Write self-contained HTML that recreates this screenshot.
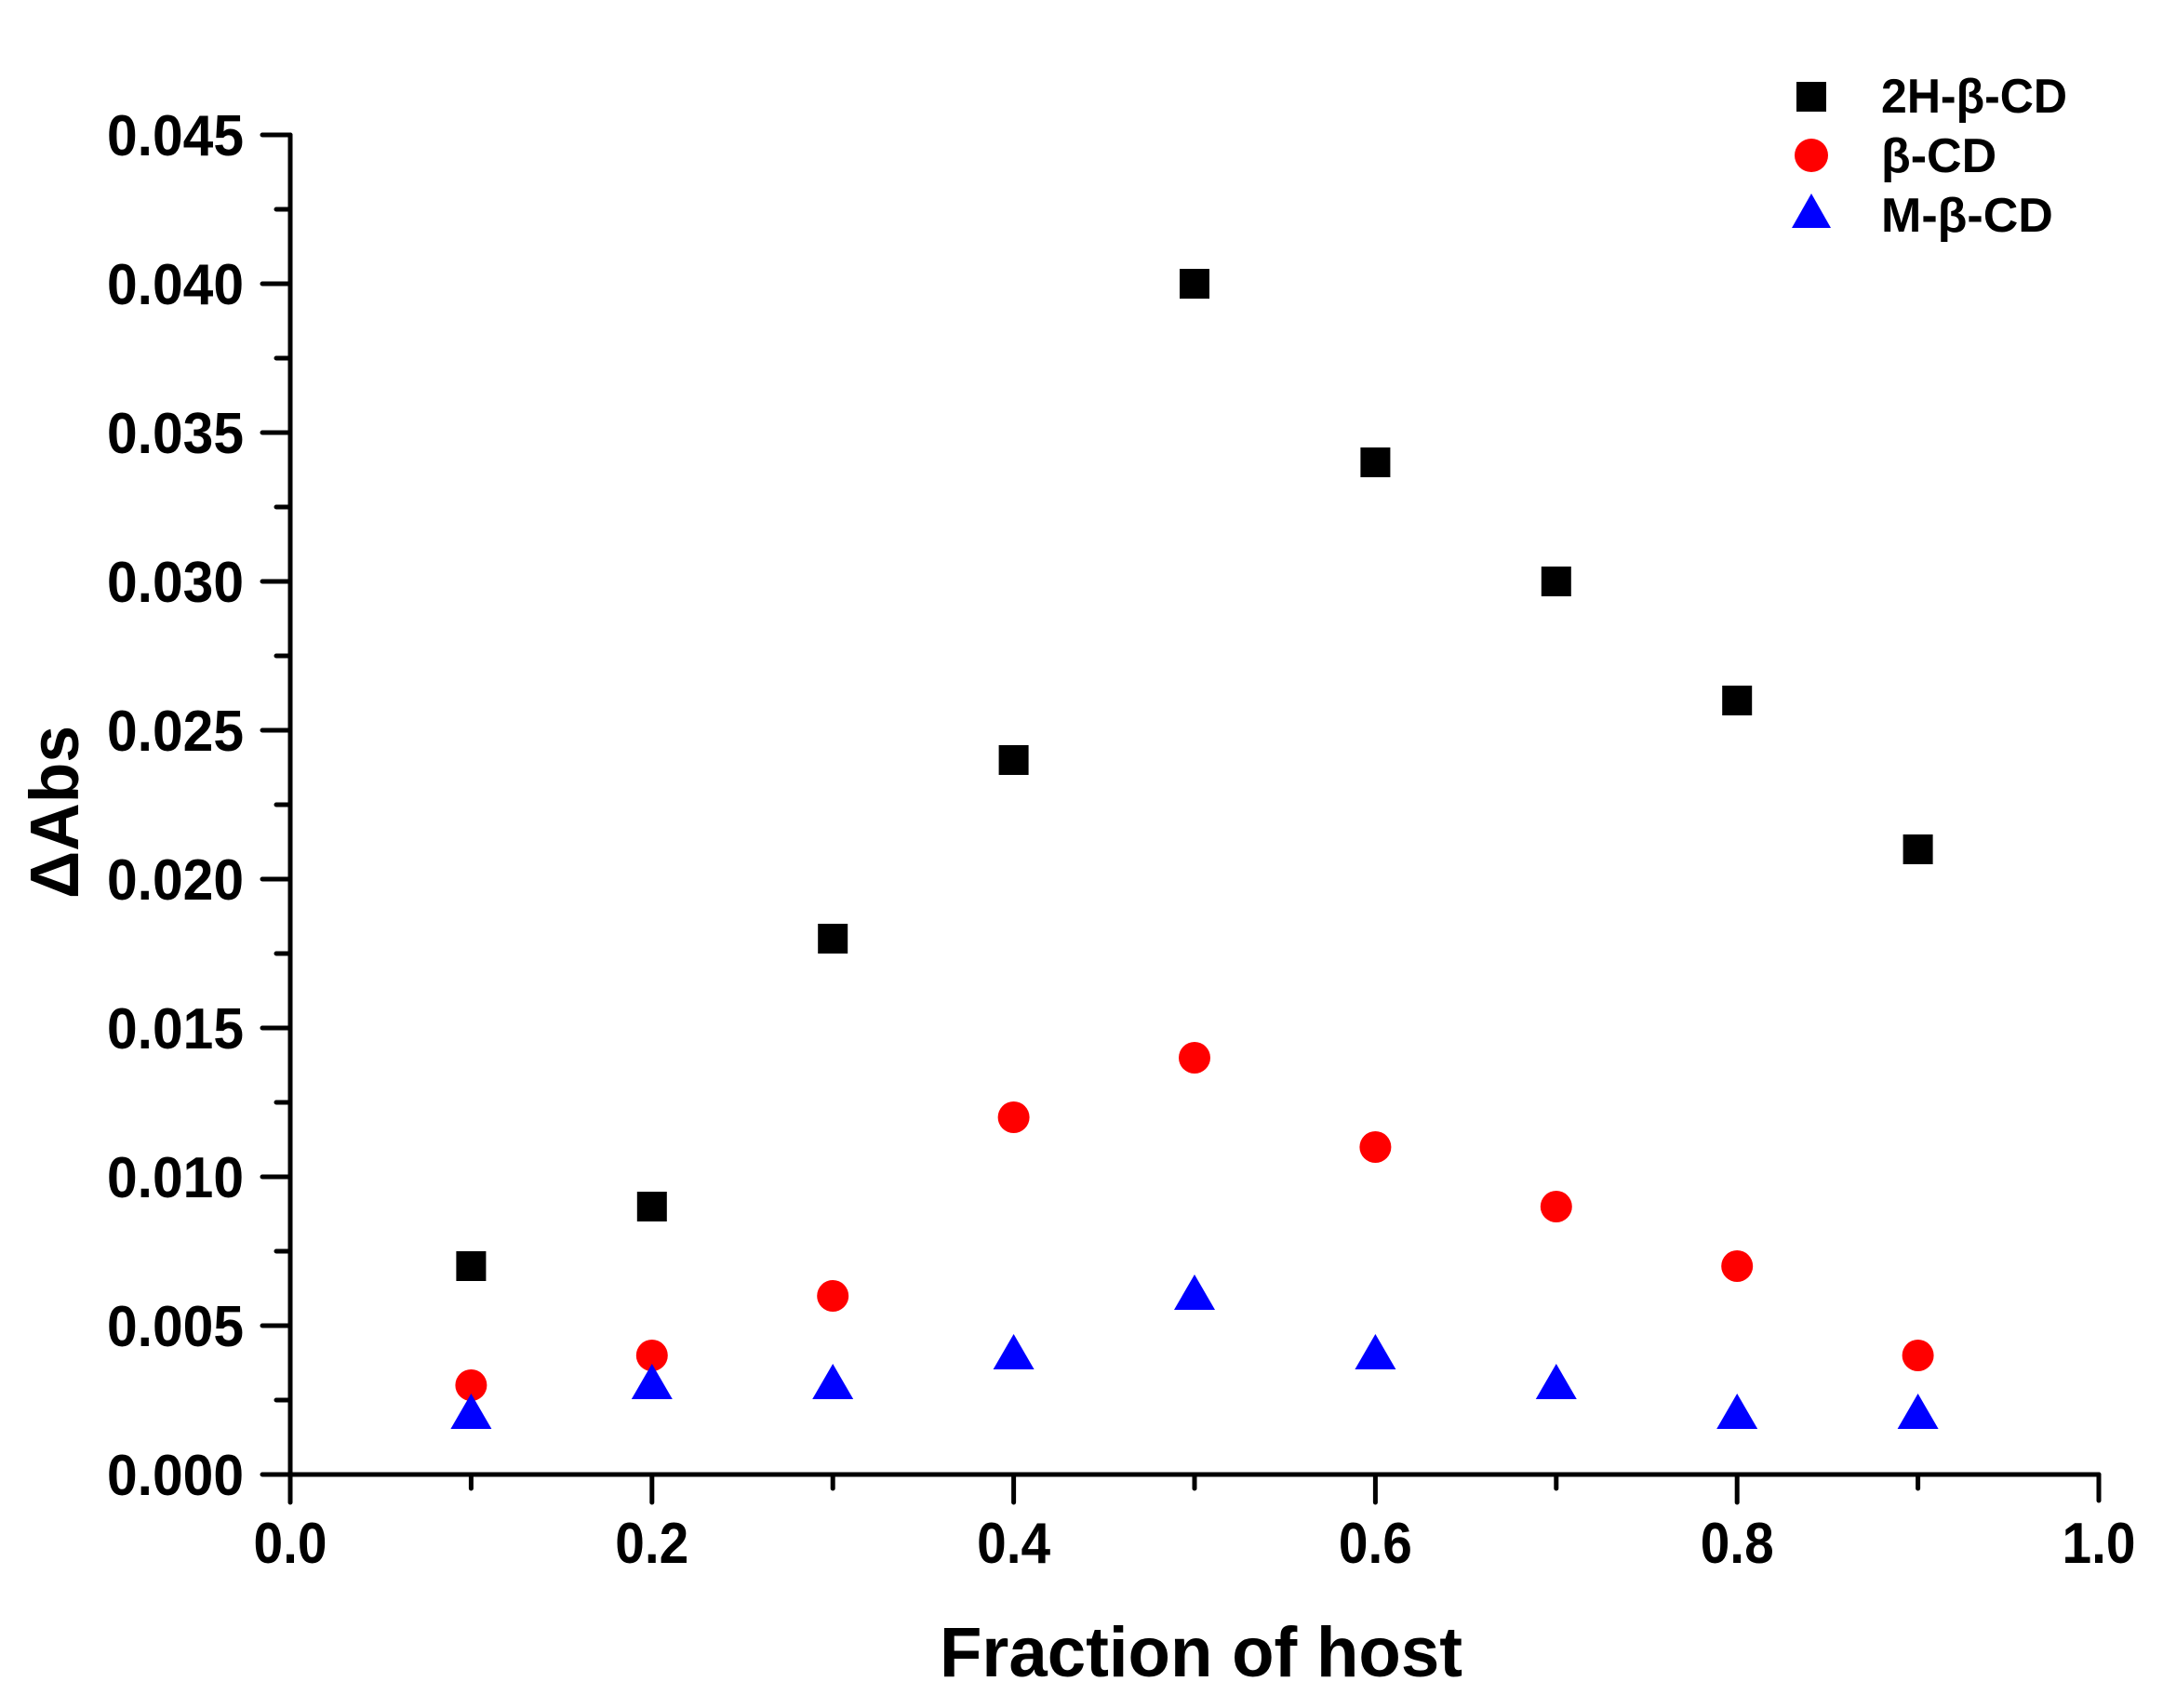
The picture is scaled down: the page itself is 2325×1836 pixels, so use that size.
<!DOCTYPE html>
<html><head><meta charset="utf-8"><style>html,body{margin:0;padding:0;background:#fff}</style></head>
<body>
<svg width="2325" height="1831" xmlns="http://www.w3.org/2000/svg" font-family="Liberation Sans, Arial, sans-serif" font-weight="bold">
<g stroke="#000" stroke-width="5" fill="none" stroke-linecap="round">
<path d="M312,145 V1585 H2256"/>
<path d="M282,1585H312M282,1425H312M282,1265H312M282,1105H312M282,945H312M282,785H312M282,625H312M282,465H312M282,305H312M282,145H312"/>
<path d="M297,1505H312M297,1345H312M297,1185H312M297,1025H312M297,865H312M297,705H312M297,545H312M297,385H312M297,225H312"/>
<path d="M312,1585V1615M700.8,1585V1615M1089.6,1585V1615M1478.4,1585V1615M1867.2,1585V1615M2256,1585V1613"/>
<path d="M506.4,1585V1600M895.2,1585V1600M1284,1585V1600M1672.8,1585V1600M2061.6,1585V1600"/>
</g>
<g font-size="62" text-anchor="end" fill="#000">
<text x="262" y="1607" textLength="147" lengthAdjust="spacingAndGlyphs">0.000</text>
<text x="262" y="1447" textLength="147" lengthAdjust="spacingAndGlyphs">0.005</text>
<text x="262" y="1287" textLength="147" lengthAdjust="spacingAndGlyphs">0.010</text>
<text x="262" y="1127" textLength="147" lengthAdjust="spacingAndGlyphs">0.015</text>
<text x="262" y="967" textLength="147" lengthAdjust="spacingAndGlyphs">0.020</text>
<text x="262" y="807" textLength="147" lengthAdjust="spacingAndGlyphs">0.025</text>
<text x="262" y="647" textLength="147" lengthAdjust="spacingAndGlyphs">0.030</text>
<text x="262" y="487" textLength="147" lengthAdjust="spacingAndGlyphs">0.035</text>
<text x="262" y="327" textLength="147" lengthAdjust="spacingAndGlyphs">0.040</text>
<text x="262" y="167" textLength="147" lengthAdjust="spacingAndGlyphs">0.045</text>
</g>
<g font-size="62" text-anchor="middle" fill="#000">
<text x="312" y="1680" textLength="79" lengthAdjust="spacingAndGlyphs">0.0</text>
<text x="700.8" y="1680" textLength="79" lengthAdjust="spacingAndGlyphs">0.2</text>
<text x="1089.6" y="1680" textLength="79" lengthAdjust="spacingAndGlyphs">0.4</text>
<text x="1478.4" y="1680" textLength="79" lengthAdjust="spacingAndGlyphs">0.6</text>
<text x="1867.2" y="1680" textLength="79" lengthAdjust="spacingAndGlyphs">0.8</text>
<text x="2256" y="1680" textLength="79" lengthAdjust="spacingAndGlyphs">1.0</text>
</g>
<text x="1291" y="1802" font-size="76" text-anchor="middle" textLength="562" lengthAdjust="spacingAndGlyphs">Fraction of host</text>
<text transform="translate(84,873) rotate(-90)" font-size="74" text-anchor="middle" textLength="186" lengthAdjust="spacingAndGlyphs">ΔAbs</text>
<g fill="#000">
<rect x="490.4" y="1345" width="32" height="32"/><rect x="684.8" y="1281" width="32" height="32"/>
<rect x="879.2" y="993" width="32" height="32"/><rect x="1073.6" y="801" width="32" height="32"/>
<rect x="1268" y="289" width="32" height="32"/><rect x="1462.4" y="481" width="32" height="32"/>
<rect x="1656.8" y="609" width="32" height="32"/><rect x="1851.2" y="737" width="32" height="32"/>
<rect x="2045.6" y="897" width="32" height="32"/>
</g>
<g fill="#f00">
<circle cx="506.4" cy="1489" r="17"/><circle cx="700.8" cy="1457" r="17"/><circle cx="895.2" cy="1393" r="17"/>
<circle cx="1089.6" cy="1201" r="17"/><circle cx="1284" cy="1137" r="17"/><circle cx="1478.4" cy="1233" r="17"/>
<circle cx="1672.8" cy="1297" r="17"/><circle cx="1867.2" cy="1361" r="17"/><circle cx="2061.6" cy="1457" r="17"/>
</g>
<g fill="#00f">
<polygon points="484.4,1536 528.4,1536 506.4,1498"/>
<polygon points="678.8,1504 722.8,1504 700.8,1466"/>
<polygon points="873.2,1504 917.2,1504 895.2,1466"/>
<polygon points="1067.6,1472 1111.6,1472 1089.6,1434"/>
<polygon points="1262,1408 1306,1408 1284,1370"/>
<polygon points="1456.4,1472 1500.4,1472 1478.4,1434"/>
<polygon points="1650.8,1504 1694.8,1504 1672.8,1466"/>
<polygon points="1845.2,1536 1889.2,1536 1867.2,1498"/>
<polygon points="2039.6,1536 2083.6,1536 2061.6,1498"/>
</g>
<rect x="1931" y="88" width="32" height="32" fill="#000"/>
<circle cx="1947" cy="167" r="18" fill="#f00"/>
<polygon points="1926,245 1968,245 1947,208" fill="#00f"/>
<g font-size="52" fill="#000">
<text x="2022" y="121" textLength="200" lengthAdjust="spacingAndGlyphs">2H-β-CD</text>
<text x="2022" y="185">β-CD</text>
<text x="2022" y="249">M-β-CD</text>
</g>
</svg>
</body></html>
